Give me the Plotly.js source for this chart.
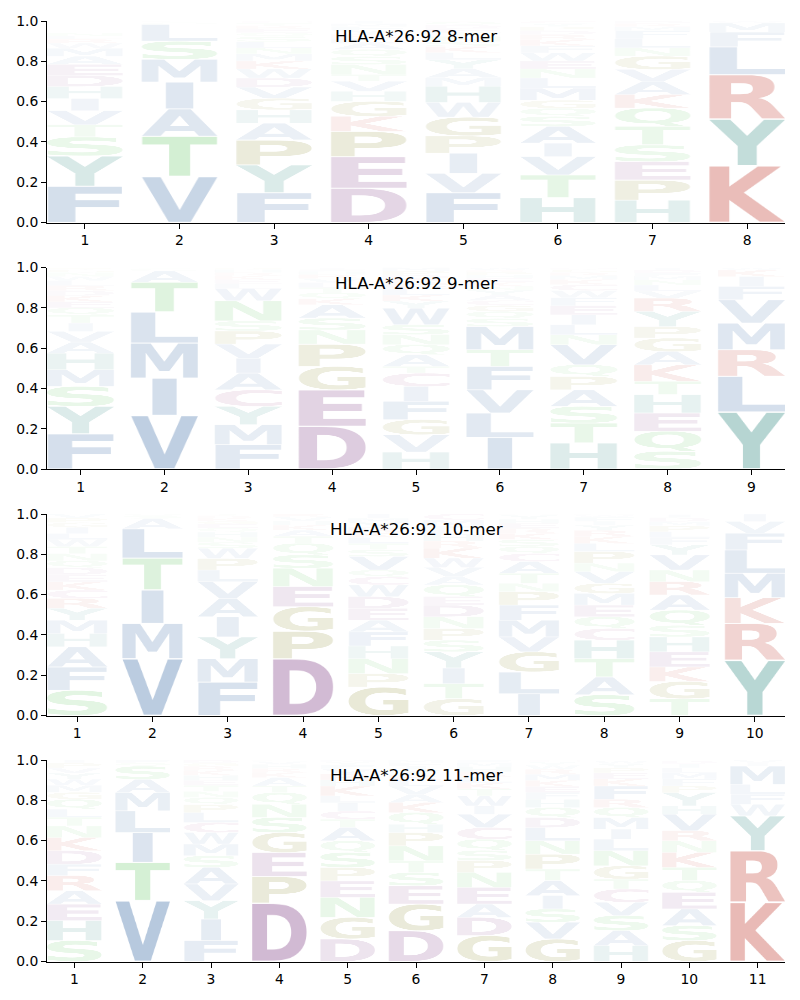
<!DOCTYPE html>
<html>
<head>
<meta charset="utf-8">
<script src="https://cdn.plot.ly/plotly-3.0.1.min.js"></script>
<style>body{margin:0;background:#fff}</style>
</head>
<body>
<div id="chart" style="width:800px;height:1000px"></div>
<script>
// ---------------- DATA ----------------
const allele = "HLA-A*26:92";
const peptideLengths = [8, 9, 10, 11];

// Letters at each position, listed bottom -> top, with their probabilities (same order)
const mer8Letters = [
  "FYSTVIHDEAMWRLN", "VTAIMSLQF", "FYPAHGVDWKMNLSQERTC", "DEPKGHVTNSQALRYFMI",
  "FVIPGWHMAYLKSNTEDQR", "HTVIASQGMLNEWFKRDPYC", "HPESTQKAVGNLFMRD", "KYRLFMW"
];
const mer8Heights = [
  [.18,.15,.095,.06,.07,.06,.06,.055,.055,.04,.04,.025,.02,.015,.015],
  [.228,.2,.136,.133,.113,.09,.083,.01,.007],
  [.148,.138,.124,.083,.066,.058,.055,.045,.045,.04,.035,.03,.03,.025,.02,.02,.015,.013,.01],
  [.17,.157,.125,.075,.074,.05,.05,.033,.05,.04,.035,.03,.025,.02,.02,.018,.015,.013],
  [.148,.096,.1,.086,.093,.073,.08,.042,.045,.045,.035,.03,.025,.025,.02,.02,.017,.015,.005],
  [.123,.113,.091,.067,.083,.05,.04,.04,.06,.05,.045,.04,.04,.035,.03,.025,.02,.02,.015,.013],
  [.111,.1,.091,.083,.092,.091,.067,.065,.06,.066,.041,.045,.04,.02,.015,.013],
  [.282,.231,.221,.138,.073,.045,.01]
];

const mer9Letters = [
  "FYSMHAVITQEKDRLWNGP", "VIMLTASQ", "FMYCAIVPSNWLEKRHG", "DEGPNSAKQTLVRHFI",
  "HVGFICTAQNSWYKLERDPM", "ILVFTMSQGCAYNKEHPRW", "HTSAPQVNLIEFWCKMRGD",
  "SQEHTKAGPYRVLNMFDI", "YLRMVFIKW"
];
const mer9Heights = [
  [.175,.136,.099,.083,.082,.055,.053,.041,.041,.035,.03,.03,.025,.025,.025,.02,.02,.015,.01],
  [.266,.185,.174,.154,.148,.056,.01,.007],
  [.121,.099,.091,.082,.083,.074,.07,.065,.05,.1,.06,.025,.02,.02,.015,.015,.01],
  [.212,.181,.116,.111,.07,.059,.066,.03,.03,.025,.025,.02,.02,.015,.01,.01],
  [.084,.086,.075,.091,.074,.066,.033,.058,.05,.05,.049,.082,.035,.03,.03,.025,.025,.02,.02,.017],
  [.157,.121,.115,.116,.083,.115,.04,.035,.03,.025,.025,.025,.02,.02,.02,.015,.015,.01,.013],
  [.129,.099,.083,.082,.067,.057,.1,.049,.05,.049,.045,.04,.035,.03,.025,.02,.015,.015,.01],
  [.088,.099,.091,.091,.066,.082,.066,.067,.057,.075,.066,.035,.03,.025,.02,.015,.015,.012],
  [.283,.177,.132,.132,.116,.066,.049,.033,.012]
];

const mer10Letters = [
  "SFAHMYRCKEDQNTWLIGPV", "VMITLASQ", "FMYIAVLPWSNHQEGKRT", "DPGENSQTAKHVR",
  "GPNHFAEDWCQVSTLKRYMI", "GTIYSPNDEQAVWKRHLFMC", "ILGVMFPNTACQSKREHYD",
  "SATHCQEMGVNPLKRYIFWD", "TGKEHSQARNVYFLPMDIW", "YRKMLFVI"
];
const mer10Heights = [
  [.125,.116,.1,.066,.066,.059,.049,.042,.04,.035,.035,.035,.035,.035,.035,.03,.03,.025,.022,.02],
  [.282,.175,.166,.158,.146,.05,.013,.01],
  [.166,.116,.108,.1,.091,.083,.058,.058,.05,.03,.025,.025,.02,.02,.015,.015,.012,.008],
  [.282,.137,.121,.1,.091,.066,.058,.035,.03,.025,.02,.02,.015],
  [.141,.067,.074,.063,.07,.058,.059,.058,.058,.04,.034,.067,.035,.03,.03,.025,.025,.025,.02,.021],
  [.083,.075,.078,.08,.058,.058,.058,.058,.042,.058,.042,.045,.046,.05,.035,.03,.025,.02,.03,.029],
  [.108,.108,.1,.074,.083,.075,.067,.041,.05,.058,.04,.035,.035,.03,.025,.025,.02,.02,.006],
  [.103,.088,.091,.092,.058,.058,.058,.058,.05,.058,.042,.058,.04,.035,.03,.025,.02,.02,.01,.006],
  [.083,.086,.072,.075,.074,.058,.075,.075,.066,.058,.075,.05,.035,.03,.03,.02,.02,.015,.003],
  [.274,.183,.128,.121,.116,.083,.058,.037]
];

const mer11Letters = [
  "SHEARFDKNTLQGMWYVPI", "VTILMASQF", "FIYVASMWCLPQNTEHKRGD", "DPEGSNQTAKRHVL",
  "DGNEPSQATCILKHRVFYM", "DGESTNPHQKAVLRYIFM", "GDAENPSQCVIWTKLRHMF",
  "GVSIATPNLDQHFEKMRWYC", "HASVCTGNLIMQRFKEPYWD", "GSAEQTKNRVHYPFMLIDW", "KRYWFLMIV"
];
const mer11Heights = [
  [.104,.099,.082,.066,.075,.057,.067,.065,.058,.043,.04,.049,.035,.035,.03,.03,.025,.025,.015],
  [.302,.19,.148,.108,.09,.066,.066,.015,.015],
  [.104,.107,.091,.083,.082,.058,.058,.057,.05,.049,.04,.035,.03,.03,.025,.025,.025,.02,.016,.015],
  [.29,.132,.119,.099,.075,.065,.058,.033,.042,.025,.02,.02,.015,.007],
  [.112,.107,.099,.082,.067,.074,.058,.066,.041,.041,.04,.035,.049,.03,.03,.025,.02,.014,.01],
  [.153,.132,.091,.066,.058,.074,.066,.041,.058,.05,.04,.042,.03,.025,.025,.02,.015,.014],
  [.129,.09,.066,.083,.074,.06,.05,.055,.058,.066,.041,.05,.035,.03,.03,.025,.025,.02,.013],
  [.112,.083,.066,.066,.074,.058,.074,.066,.066,.049,.05,.04,.035,.03,.03,.03,.025,.02,.016,.01],
  [.079,.074,.075,.066,.066,.049,.066,.075,.057,.05,.057,.05,.041,.066,.035,.03,.025,.02,.015,.004],
  [.104,.074,.083,.082,.058,.066,.074,.058,.05,.082,.041,.066,.033,.035,.03,.025,.02,.015,.004],
  [.294,.256,.173,.057,.05,.049,.091,.015,.015]
];

const panelLetters = [mer8Letters, mer9Letters, mer10Letters, mer11Letters];
const panelHeights = [mer8Heights, mer9Heights, mer10Heights, mer11Heights];

// ---------------- STYLE ----------------
const groupColor = {
  blue: "rgb(64,111,167)", red: "rgb(195,69,58)", purple: "rgb(129,64,134)",
  teal: "rgb(49,137,129)", green: "rgb(81,190,81)", olive: "rgb(128,128,30)", pink: "rgb(160,70,130)"
};
const letterGroup = {
  A:"blue",V:"blue",L:"blue",I:"blue",M:"blue",F:"blue",W:"blue",
  K:"red",R:"red", D:"purple",E:"purple", Y:"teal",H:"teal",
  S:"green",T:"green",N:"green",Q:"green", P:"olive",G:"olive", C:"pink"
};
const FONT = 'bold 200px "DejaVu Sans"';

// glyph bitmaps: ink bounding box stretched to fill the canvas
const glyphs = {};
(function buildGlyphs(){
  const S = 160;
  const mc = document.createElement('canvas').getContext('2d');
  mc.font = FONT;
  const me = mc.measureText('E');
  const eW = me.actualBoundingBoxLeft + me.actualBoundingBoxRight;
  Object.keys(letterGroup).forEach(L => {
    const c = document.createElement('canvas');
    c.width = S; c.height = S;
    const ctx = c.getContext('2d');
    ctx.font = FONT;
    const m = ctx.measureText(L);
    const w = m.actualBoundingBoxLeft + m.actualBoundingBoxRight;
    const h = m.actualBoundingBoxAscent + m.actualBoundingBoxDescent;
    ctx.fillStyle = groupColor[letterGroup[L]];
    ctx.setTransform(S / w, 0, 0, S / h, 0, 0);
    ctx.fillText(L, m.actualBoundingBoxLeft, m.actualBoundingBoxAscent);
    glyphs[L] = {url: c.toDataURL('image/png'), wf: Math.min(1, w / eW)};
  });
})();

// panel placement (pixels from top of 1000px page)
const panelTop = [21, 267.5, 514, 760];
const panelH = 201.5;
const PAGE_H = 1000;
const LETTER_W = 0.8;
const VPAD = 0.03;

const data = [];
const images = [];
const annotations = [];
const layout = {
  width: 800, height: 1000,
  margin: {l: 47, r: 15, t: 0, b: 0},
  paper_bgcolor: "#fff", plot_bgcolor: "#fff",
  showlegend: false,
  font: {family: "DejaVu Sans", color: "#000"},
  images: images, annotations: annotations
};

panelLetters.forEach((letters, p) => {
  const heights = panelHeights[p];
  const n = peptideLengths[p];
  const sfx = p === 0 ? "" : String(p + 1);
  const xa = "x" + sfx, ya = "y" + sfx;
  const positions = letters.map((_, i) => i + 1);
  const top = panelTop[p];
  layout["xaxis" + sfx] = {
    anchor: ya, domain: [0, 1], range: [0.6, n + 0.4],
    tickvals: positions, ticktext: positions.map(String),
    showgrid: false, zeroline: false, showline: true, linecolor: "#000", linewidth: 1,
    ticks: "outside", ticklen: 5, tickwidth: 1, tickcolor: "#000",
    tickfont: {family: "DejaVu Sans", size: 13.9, color: "#000"}, fixedrange: true
  };
  layout["yaxis" + sfx] = {
    anchor: xa, domain: [1 - (top + panelH) / PAGE_H, 1 - top / PAGE_H], range: [0, 1],
    tickvals: [0, 0.2, 0.4, 0.6, 0.8, 1], ticktext: ["0.0", "0.2", "0.4", "0.6", "0.8", "1.0"],
    showgrid: false, zeroline: false, showline: true, linecolor: "#000", linewidth: 1,
    ticks: "outside", ticklen: 5, tickwidth: 1, tickcolor: "#000",
    tickfont: {family: "DejaVu Sans", size: 13.9, color: "#000"}, fixedrange: true
  };
  // invisible trace so the subplot exists
  data.push({
    type: "scatter", mode: "markers", x: positions, y: positions.map(() => 0),
    xaxis: xa, yaxis: ya, marker: {opacity: 0}, hoverinfo: "skip", showlegend: false
  });
  letters.forEach((str, i) => {
    let base = 0;
    str.split("").forEach((L, k) => {
      const h = heights[i][k];
      const g = glyphs[L];
      const w = LETTER_W * g.wf;
      images.push({
        source: g.url, xref: xa, yref: ya,
        x: positions[i] - w / 2, y: base + h * (1 - VPAD / 2),
        sizex: w, sizey: h * (1 - VPAD),
        xanchor: "left", yanchor: "top", sizing: "stretch", layer: "above",
        opacity: Math.min(0.4, 1.25 * h)
      });
      base += h;
    });
  });
  annotations.push({
    text: allele + " " + n + "-mer", xref: xa + " domain", yref: ya + " domain",
    x: 0.5, y: 1 - 15 / panelH, xanchor: "center", yanchor: "middle", showarrow: false,
    font: {family: "DejaVu Sans", size: 16.7, color: "#000"}
  });
});

Plotly.newPlot("chart", data, layout, {displayModeBar: false, staticPlot: true});
</script>
</body>
</html>
